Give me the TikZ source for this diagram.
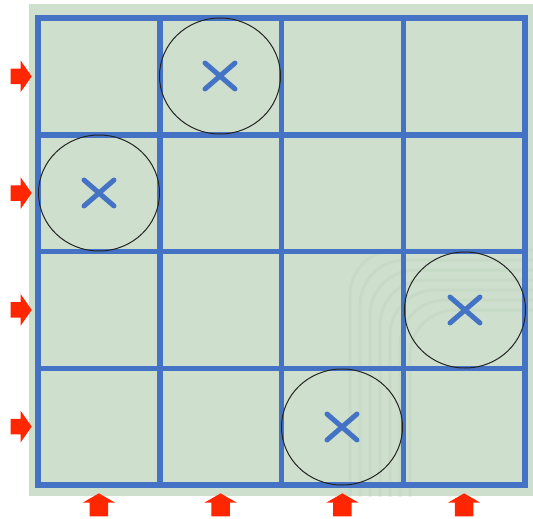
\documentclass[tikz,border=0pt]{standalone}
\usetikzlibrary{shapes.geometric,shapes.arrows}
\definecolor{ttGreen}{RGB}{206,224,205}
\definecolor{ttTex}{RGB}{185,207,185}
\definecolor{ttBlue}{RGB}{68,114,196}
\definecolor{ttRed}{RGB}{255,38,0}
\definecolor{ttRing}{RGB}{35,35,35}

\begin{document}
\begin{tikzpicture}[
  x=1pt, y=-1pt,
  gridln/.style={draw=ttBlue, line width=5.5pt, line cap=rect},
  ring/.style={draw=ttRing, line width=1pt, ellipse, minimum width=121pt, minimum height=116pt, inner sep=0pt},
  xmk/.style={draw=ttBlue, line width=5pt, line cap=round},
  inarrow/.style={single arrow, fill=ttRed, draw=none, inner xsep=0pt, inner ysep=7.5pt, single arrow head extend=8pt, single arrow tip angle=110, minimum width=31pt, minimum height=21pt}
]
\useasboundingbox (0,0) rectangle (533,519);

%============ BOARD ============
\fill[ttGreen] (29,4) rectangle (533,496);
% faint texture
\begin{scope}
  \clip (29,4) rectangle (533,496);
  \foreach \k in {0,...,6}
    \draw[ttTex, opacity=0.35, line width=3pt, rounded corners=45pt]
      (350+10*\k,250+10*\k) rectangle (600,560);
\end{scope}
\foreach \i in {0,...,4} {
  \draw[gridln] (38+\i*121.75,18) -- (38+\i*121.75,485);
  \draw[gridln] (38,18+\i*116.75) -- (525,18+\i*116.75);
}

%============ QUEENS ============
\node[ring] (q1) at (220,76) {};
\node[ring] (q2) at (99,193) {};
\node[ring] (q3) at (465,310) {};
\node[ring] (q4) at (342,427) {};
\foreach \q in {q1,q2,q3,q4} {
  \draw[xmk] (\q.center) +(-15,-13) -- +(15,13);
  \draw[xmk] (\q.center) +(-15,13) -- +(15,-13);
}

%============ ROW / COLUMN ARROWS ============
\foreach \r [count=\k] in {76.4,193.1,309.9,426.6}
  \node[inarrow] (row\k) at (18.5,\r) {};
\foreach \c [count=\k] in {98.9,220.6,342.4,464.1}
  \node[inarrow, shape border rotate=90, minimum height=23pt, minimum width=32pt, inner xsep=9pt, inner ysep=0pt, single arrow head extend=7pt, single arrow tip angle=120] (col\k) at (\c,507.5) {};
\end{tikzpicture}
\end{document}
